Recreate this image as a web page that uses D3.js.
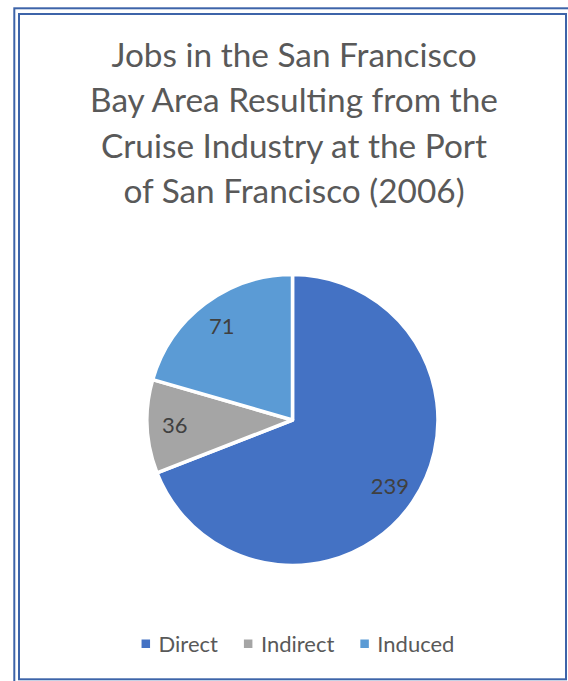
<!DOCTYPE html>
<html>
<head>
<meta charset="utf-8">
<script src="https://cdn.jsdelivr.net/npm/d3@7"></script>
<style>
    body { margin: 0; background: #fff; }
    svg { display: block; }
</style>
</head>
<body>
<div id="chart"></div>
<script>
// chart data
const categories = ["Direct", "Indirect", "Induced"];
const jobs = [239, 36, 71];
const sliceColors = ["#4472C4", "#A5A5A5", "#5B9BD5"];
const titleLines = [
    "Jobs in the San Francisco",
    "Bay Area Resulting from the",
    "Cruise Industry at the Port",
    "of San Francisco (2006)"
];

const width = 568;
const height = 681;
const fontFamily = "Lato, 'Open Sans', sans-serif";

const svg = d3.select("#chart")
    .append("svg")
    .attr("width", width)
    .attr("height", height);

// double frame round the chart area
svg.append("rect")
    .attr("x", 14.3).attr("y", 8.3)
    .attr("width", 600).attr("height", 700)
    .attr("fill", "none")
    .attr("stroke", "#3D64A9")
    .attr("stroke-width", 2);

svg.append("rect")
    .attr("x", 19).attr("y", 14)
    .attr("width", 566 - 19).attr("height", 679.3 - 14)
    .attr("fill", "#fff")
    .attr("stroke", "#3D64A9")
    .attr("stroke-width", 2);

// title, sized so the widest line is as wide as in the reference
const title = svg.append("g").attr("class", "title");

const titleText = title.selectAll("text")
    .data(titleLines)
    .join("text")
    .attr("x", 294)
    .attr("y", (d, i) => 67 + i * 45.3)
    .attr("text-anchor", "middle")
    .attr("font-family", fontFamily)
    .attr("font-size", 100)
    .attr("fill", "#595959")
    .text(d => d);

const widest = d3.max(titleText.nodes(), n => n.getComputedTextLength());
const titleSize = 100 * 408 / widest;
titleText.attr("font-size", titleSize);

// pie
const cx = 292.5, cy = 420, radius = 145.5;

const pie = d3.pie().sort(null).value(d => d.value);
const arc = d3.arc().innerRadius(0).outerRadius(radius);
const labelArc = d3.arc().innerRadius(radius * 0.81).outerRadius(radius * 0.81);

const color = d3.scaleOrdinal().domain(categories).range(sliceColors);

const slices = pie(categories.map((c, i) => ({ key: c, value: jobs[i] })));

const pieGroup = svg.append("g")
    .attr("class", "pie-chart")
    .attr("transform", `translate(${cx},${cy})`);

pieGroup.selectAll(".arc")
    .data(slices)
    .join("path")
    .attr("class", "arc")
    .attr("d", arc)
    .attr("fill", d => color(d.data.key))
    .attr("stroke", "#fff")
    .attr("stroke-width", 3.5)
    .attr("stroke-linejoin", "round");

const labelSize = 22;

pieGroup.selectAll(".label")
    .data(slices)
    .join("text")
    .attr("class", "label")
    .attr("transform", d => `translate(${labelArc.centroid(d)})`)
    .attr("text-anchor", "middle")
    .attr("dy", "0.35em")
    .attr("font-family", fontFamily)
    .attr("font-size", labelSize)
    .attr("fill", "#404040")
    .text(d => d.data.value);

// legend: items laid out one after another from their text widths, then centred
const legend = svg.append("g").attr("class", "legend");

const legendItem = legend.selectAll("g")
    .data(categories)
    .join("g");

legendItem.append("rect")
    .attr("x", 0).attr("y", -4.5)
    .attr("width", 8.5).attr("height", 8.5)
    .attr("fill", d => color(d));

legendItem.append("text")
    .attr("x", 17)
    .attr("y", 7.5)
    .attr("font-family", fontFamily)
    .attr("font-size", labelSize)
    .attr("fill", "#595959")
    .text(d => d);

let offset = 0;
const itemX = [];
legendItem.select("text").each(function () {
    itemX.push(offset);
    offset += 17 + this.getComputedTextLength() + 26;
});
const legendWidth = offset - 26;
legendItem.attr("transform", (d, i) => `translate(${298 - legendWidth / 2 + itemX[i]},644)`);
</script>
</body>
</html>
